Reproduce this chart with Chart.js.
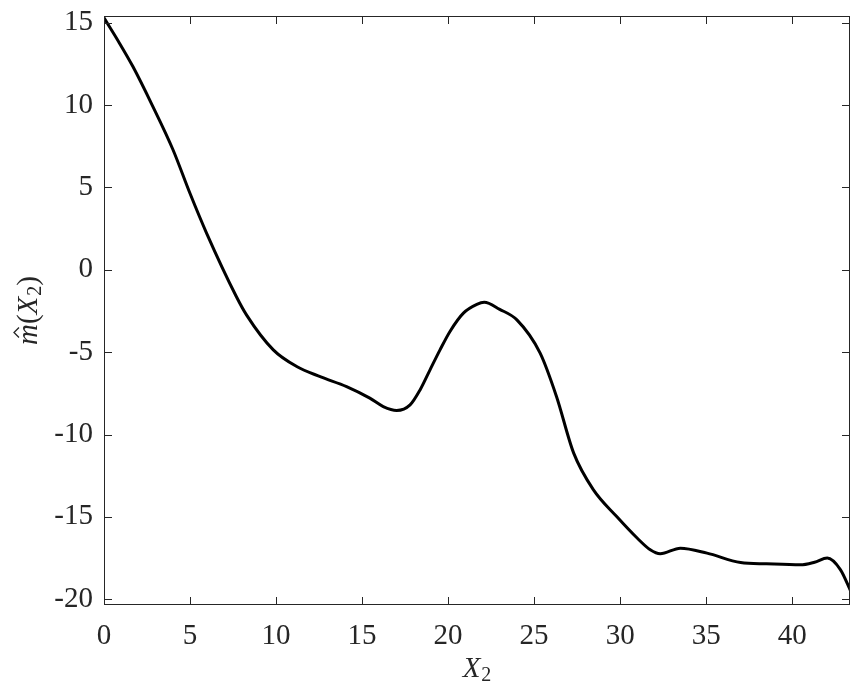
<!DOCTYPE html>
<html>
<head>
<meta charset="utf-8">
<script src="https://cdn.jsdelivr.net/npm/chart.js@4"></script>
<style>
html, body { margin: 0; padding: 0; background: #fff; }
#wrap { width: 850px; height: 684px; }
</style>
</head>
<body>
<div id="wrap"><canvas id="chart" width="850" height="684"></canvas></div>
<script>
// curve (X2, m-hat)
var xVals = [0, 0.85, 1.68, 2.8, 4.01, 4.99, 5.96, 7.69, 8.29, 9.84, 11.2, 12.6, 14.1, 15.45, 16.23, 17.01, 17.79, 18.37, 18.95, 19.53, 20.11, 20.89, 21.67, 22.1, 23.0, 24.0, 25.35, 26.3, 27.3, 28.45, 29.8, 31.0, 31.75, 32.33, 33.5, 35.05, 37.0, 38.5, 40.48, 41.3, 42.04, 42.8, 43.4];
var yVals = [15.3, 13.85, 12.34, 10.0, 7.29, 4.66, 2.23, -1.62, -2.75, -4.86, -5.87, -6.5, -7.09, -7.79, -8.3, -8.54, -8.2, -7.29, -6.07, -4.86, -3.74, -2.63, -2.1, -1.97, -2.4, -3.04, -5.06, -7.69, -11.13, -13.36, -14.98, -16.3, -17.0, -17.24, -16.9, -17.2, -17.77, -17.85, -17.91, -17.75, -17.5, -18.2, -19.5];
var xTicks = [0, 5, 10, 15, 20, 25, 30, 35, 40];
var yTicks = [-20, -15, -10, -5, 0, 5, 10, 15];
var xMin = 0, xMax = 43.36;
var yMin = -20.35, yMax = 15.41;

var SERIF = '"Liberation Serif", "Times New Roman", serif';
var TEXT = "#262626";

var points = [];
for (var i = 0; i < xVals.length; i++) {
  points.push({ x: xVals[i], y: yVals[i] });
}

function drawPieces(ctx, pieces, cx, baseY) {
  var total = 0;
  for (var i = 0; i < pieces.length; i++) {
    ctx.font = pieces[i].font;
    pieces[i].w = ctx.measureText(pieces[i].t).width;
    total += pieces[i].w + (pieces[i].gap || 0);
  }
  var x = cx - total / 2;
  ctx.textBaseline = "alphabetic";
  ctx.textAlign = "left";
  for (var j = 0; j < pieces.length; j++) {
    var p = pieces[j];
    ctx.font = p.font;
    ctx.fillText(p.t, x, baseY + (p.dy || 0));
    if (p.hat) {
      // little caret over the m
      var hx = x + p.w / 2 + 2;
      ctx.beginPath();
      ctx.moveTo(hx - 5, baseY - 18);
      ctx.lineTo(hx, baseY - 23);
      ctx.lineTo(hx + 5, baseY - 18);
      ctx.lineWidth = 1.3;
      ctx.strokeStyle = TEXT;
      ctx.stroke();
    }
    x += p.w + (p.gap || 0);
  }
}

var frame = {
  id: "frame",
  afterDraw: function (chart) {
    var ctx = chart.ctx;
    var a = chart.chartArea;
    var xs = chart.scales.x;
    var ys = chart.scales.y;
    ctx.save();
    ctx.strokeStyle = TEXT;
    ctx.lineWidth = 1;
    ctx.strokeRect(Math.round(a.left) + 0.5, Math.round(a.top) + 0.5,
      Math.round(a.right - a.left) - 1, Math.round(a.bottom - a.top) - 1);
    ctx.beginPath();
    for (var i = 0; i < xTicks.length; i++) {
      var px = Math.round(xs.getPixelForValue(xTicks[i])) + 0.5;
      ctx.moveTo(px, a.bottom); ctx.lineTo(px, a.bottom - 8);
      ctx.moveTo(px, a.top); ctx.lineTo(px, a.top + 8);
    }
    for (var j = 0; j < yTicks.length; j++) {
      var py = Math.round(ys.getPixelForValue(yTicks[j])) + 0.5;
      ctx.moveTo(a.left, py); ctx.lineTo(a.left + 8, py);
      ctx.moveTo(a.right, py); ctx.lineTo(a.right - 8, py);
    }
    ctx.stroke();

    ctx.fillStyle = TEXT;
    // x axis title
    drawPieces(ctx, [
      { t: "X", font: "italic 29px " + SERIF, gap: 1 },
      { t: "2", font: "20px " + SERIF, dy: 4 }
    ], (a.left + a.right) / 2, 677);

    // y axis title, rotated
    ctx.translate(37, (a.top + a.bottom) / 2);
    ctx.rotate(-Math.PI / 2);
    drawPieces(ctx, [
      { t: "m", font: "italic 29px " + SERIF, hat: true },
      { t: "(", font: "29px " + SERIF },
      { t: "X", font: "italic 29px " + SERIF, gap: 1 },
      { t: "2", font: "20px " + SERIF, dy: 4 },
      { t: ")", font: "29px " + SERIF }
    ], 0, 0);
    ctx.restore();
  }
};

new Chart(document.getElementById("chart"), {
  type: "scatter",
  data: {
    datasets: [{
      data: points,
      showLine: true,
      borderColor: "#000000",
      borderWidth: 3,
      pointRadius: 0,
      cubicInterpolationMode: "monotone",
      fill: false
    }]
  },
  options: {
    responsive: false,
    animation: false,
    devicePixelRatio: 1,
    layout: { padding: { top: 16, right: 0, left: 0, bottom: 0 } },
    plugins: { legend: { display: false }, tooltip: { enabled: false } },
    scales: {
      x: {
        type: "linear",
        min: xMin,
        max: xMax,
        grid: { display: false, drawTicks: false },
        border: { display: false },
        afterBuildTicks: function (scale) {
          scale.ticks = xTicks.map(function (v) { return { value: v }; });
        },
        afterFit: function (scale) {
          scale.height = 79;
          scale.paddingLeft = 0;
          scale.paddingRight = 0;
        },
        ticks: {
          padding: 14,
          maxRotation: 0,
          autoSkip: false,
          color: TEXT,
          font: { family: SERIF, size: 29 }
        }
      },
      y: {
        type: "linear",
        min: yMin,
        max: yMax,
        grid: { display: false, drawTicks: false },
        border: { display: false },
        afterBuildTicks: function (scale) {
          scale.ticks = yTicks.map(function (v) { return { value: v }; });
        },
        afterFit: function (scale) {
          scale.width = 104;
          scale.paddingTop = 0;
          scale.paddingBottom = 0;
        },
        ticks: {
          padding: 11,
          autoSkip: false,
          color: TEXT,
          font: { family: SERIF, size: 29 },
          callback: function (v) { return String(v); }
        }
      }
    }
  },
  plugins: [frame]
});
</script>
</body>
</html>
